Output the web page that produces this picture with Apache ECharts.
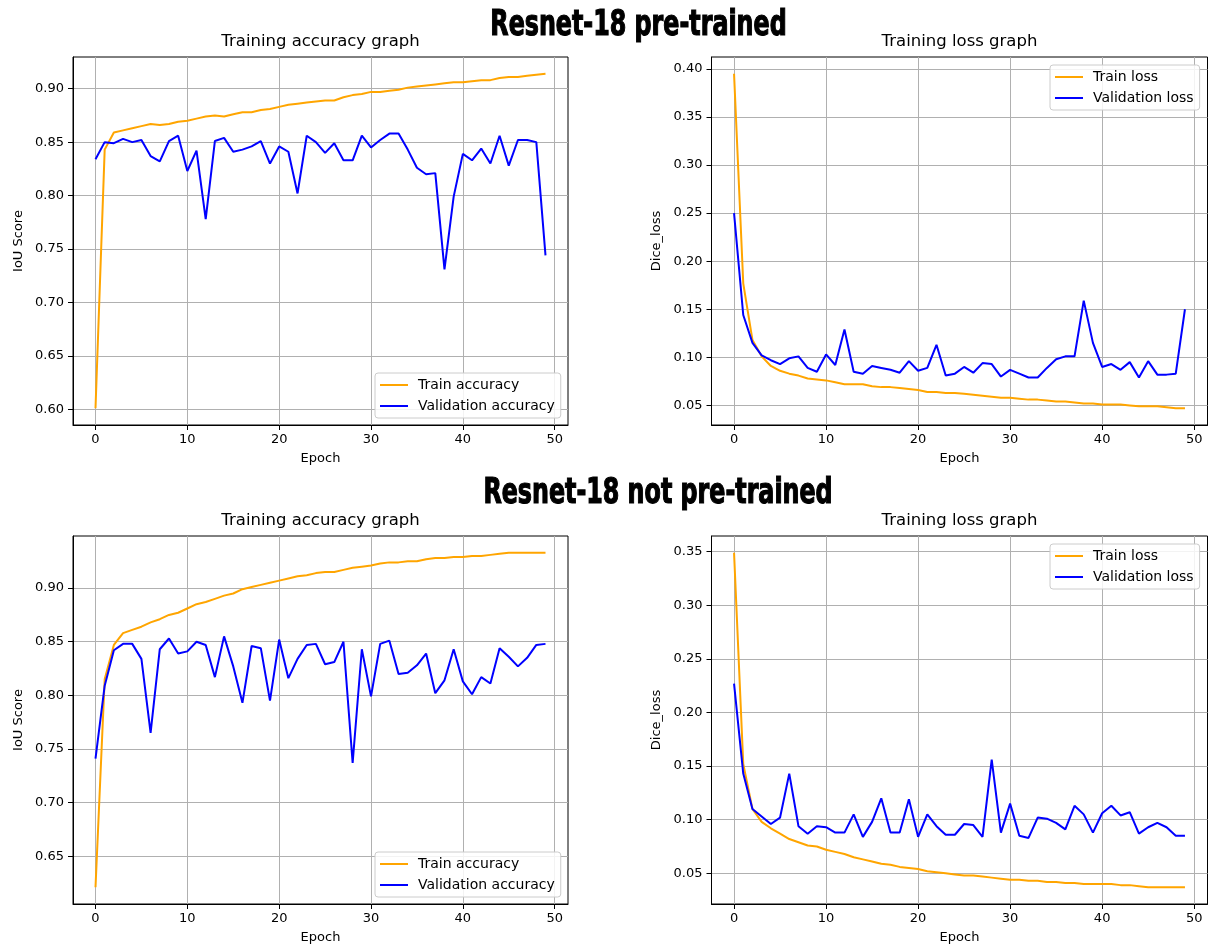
<!DOCTYPE html>
<html>
<head>
<meta charset="utf-8">
<script src="https://cdn.jsdelivr.net/npm/echarts@6/dist/echarts.min.js"></script>
<style>
html,body{margin:0;padding:0;background:#fff;}
#chart{width:1212px;height:948px;}
</style>
</head>
<body>
<div id="chart"></div>
<script>
// ---------- DATA ----------
const epochs = [0,1,2,3,4,5,6,7,8,9,10,11,12,13,14,15,16,17,18,19,20,21,22,23,24,25,26,27,28,29,30,31,32,33,34,35,36,37,38,39,40,41,42,43,44,45,46,47,48,49];
const xTicks = [0,10,20,30,40,50];

// Resnet-18 pre-trained : accuracy
const preTrainAcc = [0.601,0.843,0.859,0.861,0.863,0.865,0.867,0.866,0.867,0.869,
  0.870,0.872,0.874,0.875,0.874,0.876,0.878,0.878,0.880,0.881,
  0.883,0.885,0.886,0.887,0.888,0.889,0.889,0.892,0.894,0.895,
  0.897,0.897,0.898,0.899,0.901,0.902,0.903,0.904,0.905,0.906,
  0.906,0.907,0.908,0.908,0.910,0.911,0.911,0.912,0.913,0.914];
const preValAcc = [0.834,0.850,0.849,0.853,0.850,0.852,0.837,0.832,0.851,0.856,
  0.823,0.842,0.778,0.851,0.854,0.841,0.843,0.846,0.851,0.830,
  0.846,0.841,0.802,0.856,0.850,0.840,0.849,0.833,0.833,0.856,
  0.845,0.852,0.858,0.858,0.843,0.826,0.820,0.821,0.731,0.799,
  0.839,0.833,0.844,0.830,0.856,0.828,0.852,0.852,0.850,0.744];
// Resnet-18 pre-trained : loss
const preTrainLoss = [0.395,0.177,0.118,0.101,0.091,0.086,0.083,0.081,0.078,0.077,
  0.076,0.074,0.072,0.072,0.072,0.070,0.069,0.069,0.068,0.067,
  0.066,0.064,0.064,0.063,0.063,0.062,0.061,0.060,0.059,0.058,
  0.058,0.057,0.056,0.056,0.055,0.054,0.054,0.053,0.052,0.052,
  0.051,0.051,0.051,0.050,0.049,0.049,0.049,0.048,0.047,0.047];
const preValLoss = [0.250,0.144,0.115,0.102,0.097,0.093,0.099,0.101,0.089,0.085,
  0.103,0.092,0.129,0.085,0.083,0.091,0.089,0.087,0.084,0.096,
  0.086,0.089,0.113,0.081,0.083,0.090,0.084,0.094,0.093,0.080,
  0.087,0.083,0.079,0.079,0.089,0.098,0.101,0.101,0.159,0.115,
  0.090,0.093,0.087,0.095,0.079,0.096,0.082,0.082,0.083,0.150];
// Resnet-18 not pre-trained : accuracy
const scrTrainAcc = [0.621,0.815,0.847,0.858,0.861,0.864,0.868,0.871,0.875,0.877,
  0.881,0.885,0.887,0.890,0.893,0.895,0.899,0.901,0.903,0.905,
  0.907,0.909,0.911,0.912,0.914,0.915,0.915,0.917,0.919,0.920,
  0.921,0.923,0.924,0.924,0.925,0.925,0.927,0.928,0.928,0.929,
  0.929,0.930,0.930,0.931,0.932,0.933,0.933,0.933,0.933,0.933];
const scrValAcc = [0.741,0.809,0.842,0.848,0.848,0.834,0.765,0.843,0.853,0.839,
  0.841,0.850,0.847,0.817,0.855,0.827,0.793,0.846,0.844,0.795,
  0.852,0.816,0.834,0.847,0.848,0.829,0.831,0.850,0.737,0.843,
  0.799,0.848,0.851,0.820,0.821,0.828,0.839,0.802,0.814,0.843,
  0.813,0.801,0.817,0.811,0.844,0.836,0.827,0.835,0.847,0.848];
// Resnet-18 not pre-trained : loss
const scrTrainLoss = [0.349,0.152,0.110,0.098,0.092,0.087,0.082,0.079,0.076,0.075,
  0.072,0.070,0.068,0.065,0.063,0.061,0.059,0.058,0.056,0.055,
  0.054,0.052,0.051,0.050,0.049,0.048,0.048,0.047,0.046,0.045,
  0.044,0.044,0.043,0.043,0.042,0.042,0.041,0.041,0.040,0.040,
  0.040,0.040,0.039,0.039,0.038,0.037,0.037,0.037,0.037,0.037];
const scrValLoss = [0.227,0.143,0.110,0.103,0.096,0.102,0.143,0.094,0.087,0.094,
  0.093,0.088,0.088,0.105,0.084,0.098,0.120,0.088,0.088,0.119,
  0.084,0.105,0.094,0.086,0.086,0.096,0.095,0.084,0.156,0.088,
  0.115,0.085,0.083,0.102,0.101,0.097,0.091,0.113,0.105,0.088,
  0.106,0.113,0.104,0.107,0.087,0.093,0.097,0.093,0.085,0.085];

const preAccTicks = [0.60,0.65,0.70,0.75,0.80,0.85,0.90];
const preLossTicks = [0.05,0.10,0.15,0.20,0.25,0.30,0.35,0.40];
const scrAccTicks = [0.65,0.70,0.75,0.80,0.85,0.90];
const scrLossTicks = [0.05,0.10,0.15,0.20,0.25,0.30,0.35];

const suptitles = ['Resnet-18 pre-trained', 'Resnet-18 not pre-trained'];
const accTitle = 'Training accuracy graph';
const lossTitle = 'Training loss graph';
const accLegend = ['Train accuracy', 'Validation accuracy'];
const lossLegend = ['Train loss', 'Validation loss'];

// ---------- CHART ----------
const FONT = "'DejaVu Sans', sans-serif";
const ORANGE = '#FFA500', BLUE = '#0000FF';

function pairs(vals){ return vals.map((v,i)=>[epochs[i], v]); }
function rangeOf(arrs){
  let lo = Infinity, hi = -Infinity;
  arrs.forEach(a=>a.forEach(v=>{ if(v<lo) lo=v; if(v>hi) hi=v; }));
  const m = (hi-lo)*0.05;
  return [lo-m, hi+m];
}
const xr = [epochs[0] - (epochs[epochs.length-1]-epochs[0])*0.05, epochs[epochs.length-1] + (epochs[epochs.length-1]-epochs[0])*0.05];

const grids = [
  {left:73, top:57, width:495, height:368},
  {left:711.5, top:57, width:496, height:368},
  {left:73, top:536, width:495, height:368},
  {left:711.5, top:536, width:496, height:368}
];
const panels = [
  {train:preTrainAcc, val:preValAcc, ticks:preAccTicks, yname:'IoU Score', names:accLegend},
  {train:preTrainLoss, val:preValLoss, ticks:preLossTicks, yname:'Dice_loss', names:lossLegend},
  {train:scrTrainAcc, val:scrValAcc, ticks:scrAccTicks, yname:'IoU Score', names:accLegend},
  {train:scrTrainLoss, val:scrValLoss, ticks:scrLossTicks, yname:'Dice_loss', names:lossLegend}
];

const xAxes = [], yAxes = [], series = [];
panels.forEach((p, i) => {
  const yr = rangeOf([p.train, p.val]);
  xAxes.push({
    type:'value', gridIndex:i, min:xr[0], max:xr[1],
    name:'Epoch', nameLocation:'middle', nameGap:27,
    nameTextStyle:{fontFamily:FONT, fontSize:13, color:'#000'},
    axisLine:{show:true, onZero:false, lineStyle:{color:'#000', width:1}},
    axisTick:{show:true, inside:false, length:5, customValues:xTicks, lineStyle:{color:'#000', width:1}},
    axisLabel:{customValues:xTicks, fontFamily:FONT, fontSize:13, color:'#000', margin:8, showMinLabel:true, showMaxLabel:true},
    splitLine:{show:true, lineStyle:{color:'#b0b0b0', width:1}}
  });
  yAxes.push({
    type:'value', gridIndex:i, min:yr[0], max:yr[1],
    name:p.yname, nameLocation:'middle', nameGap:48,
    nameTextStyle:{fontFamily:FONT, fontSize:13, color:'#000'},
    axisLine:{show:true, onZero:false, lineStyle:{color:'#000', width:1}},
    axisTick:{show:true, inside:false, length:5, customValues:p.ticks, lineStyle:{color:'#000', width:1}},
    axisLabel:{customValues:p.ticks, fontFamily:FONT, fontSize:13, color:'#000', margin:9,
      formatter:v=>Number(v).toFixed(2)},
    splitLine:{show:true, lineStyle:{color:'#b0b0b0', width:1}}
  });
  series.push({
    type:'line', name:p.names[0], xAxisIndex:i, yAxisIndex:i, data:pairs(p.train),
    symbol:'none', showSymbol:false, lineStyle:{color:ORANGE, width:2}, itemStyle:{color:ORANGE}, z:2
  });
  series.push({
    type:'line', name:p.names[1], xAxisIndex:i, yAxisIndex:i, data:pairs(p.val),
    symbol:'none', showSymbol:false, lineStyle:{color:BLUE, width:2}, itemStyle:{color:BLUE}, z:3
  });
});

const legendBase = {
  orient:'vertical', icon:'rect', itemWidth:28, itemHeight:2, itemGap:7,
  padding:[5,6,5,5], backgroundColor:'rgba(255,255,255,0.85)',
  borderColor:'#cccccc', borderWidth:1, borderRadius:3,
  textStyle:{fontFamily:FONT, fontSize:14, color:'#000', padding:[0,0,0,5]},
  selectedMode:false
};
const legends = [
  Object.assign({}, legendBase, {left:375, top:373, data:accLegend}),
  Object.assign({}, legendBase, {left:1050, top:65, data:lossLegend}),
  Object.assign({}, legendBase, {left:375, top:852, data:accLegend}),
  Object.assign({}, legendBase, {left:1050, top:544, data:lossLegend})
];

const subTitleStyle = {fontFamily:FONT, fontSize:16.5, fontWeight:'normal', color:'#000'};
const titles = [
  {text:accTitle, left:320.5, top:33, textAlign:'center', padding:0, textStyle:subTitleStyle},
  {text:lossTitle, left:959.5, top:33, textAlign:'center', padding:0, textStyle:subTitleStyle},
  {text:accTitle, left:320.5, top:512, textAlign:'center', padding:0, textStyle:subTitleStyle},
  {text:lossTitle, left:959.5, top:512, textAlign:'center', padding:0, textStyle:subTitleStyle}
];

function supText(txt, cx, cy){
  return {
    type:'text', x:cx, y:cy, scaleX:0.755, scaleY:1, z:100, silent:true,
    style:{
      text:txt, fill:'#000', stroke:'#000', lineWidth:1.2,
      fontFamily:"'DejaVu Sans Condensed', 'DejaVu Sans', sans-serif", fontSize:35, fontWeight:'bold',
      textAlign:'center', textVerticalAlign:'middle', align:'center', verticalAlign:'middle'
    }
  };
}

const chart = echarts.init(document.getElementById('chart'), null, {renderer:'canvas'});
chart.setOption({
  animation:false,
  backgroundColor:'#fff',
  title:titles,
  legend:legends,
  graphic:{elements:[supText(suptitles[0], 638.5, 26), supText(suptitles[1], 658, 494)]},
  grid:grids.map(g=>Object.assign({show:true, borderColor:'#000', borderWidth:1, containLabel:false}, g)),
  xAxis:xAxes,
  yAxis:yAxes,
  series:series
});
</script>
</body>
</html>
